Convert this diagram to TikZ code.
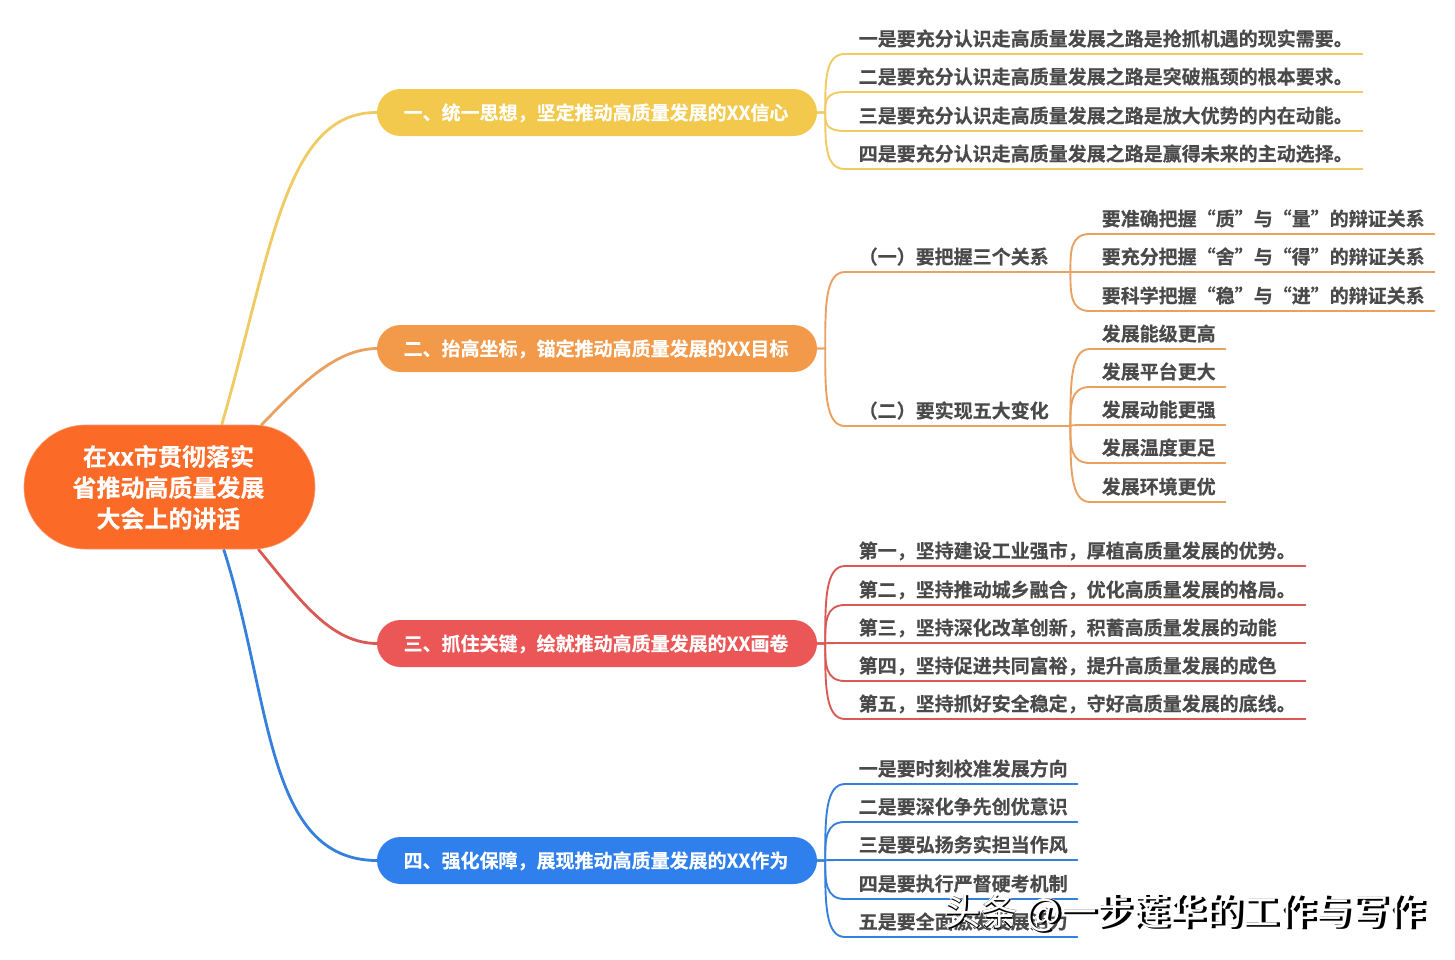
\documentclass[tikz,border=0pt]{standalone}
\usepackage{fontspec}
\usetikzlibrary{shapes.misc,backgrounds,calc}
\setmainfont{Noto Sans CJK SC}[BoldFont={Noto Sans CJK SC Bold},BoldFeatures={FakeBold=0.35}]
\newfontfamily\wmthin{Noto Sans CJK SC}
\newfontfamily\wmthick{Noto Sans CJK SC Bold}[FakeBold=2]
\newfontfamily\wmmid{Noto Sans CJK SC Bold}
\definecolor{cy}{HTML}{F2C94C}\definecolor{co}{HTML}{F2994A}\definecolor{cr}{HTML}{EB5757}\definecolor{cb}{HTML}{2F80ED}
\definecolor{ly}{HTML}{EFCB62}\definecolor{lo}{HTML}{E9A162}\definecolor{lr}{HTML}{D95A55}\definecolor{lb}{HTML}{3580DD}
\definecolor{croot}{HTML}{FB6A27}\definecolor{ctxt}{HTML}{4A4A4A}
\tikzset{x=1pt,y=-1pt,
 rootbox/.style={rounded rectangle,fill=croot,draw=croot!70!white,line width=.6pt,minimum width=291pt,minimum height=124pt,inner sep=0pt,align=center,text=white,font=\fontsize{24}{31}\selectfont\bfseries},
 branch/.style={rounded rectangle,fill=#1,minimum width=440pt,minimum height=47pt,inner sep=0pt,text=white,font=\fontsize{19}{23}\selectfont\bfseries},
 leaf/.style={anchor=south west,inner sep=0pt,text=ctxt,font=\fontsize{19}{23}\selectfont\bfseries},
 wire/.style={line width=1.9pt,line cap=round,line join=round},
 mainwire/.style={line width=2.8pt},
 wmark/.style={anchor=west,inner sep=0pt,font=\fontsize{36.5}{40}\selectfont}}
\newcommand{\lowered}[1]{\kern-2pt\raisebox{-0.4pt}[\height][\depth]{#1}}
\newcommand{\leafnode}[6][14]{\node[leaf] (#2) at (#3,#4) {\makebox[\dimexpr #5pt-#3pt\relax][l]{\hspace{\dimexpr #1pt-0.5pt\relax}\rule[-8pt]{0pt}{26pt}#6}};}
\newcommand{\twig}[4]{\coordinate (tp) at ($(#2)+(#4,0)$); \draw[wire,#1] (#2) -- (tp) .. controls ($(tp)!0.55!(tp|-#3.south west)$) and (tp|-#3.south west) .. (#3.south west) -- (#3.south east);}
\newcommand{\wmtext}{头条\hspace{9pt}@\hspace{-1pt}一步莲华的工作与写作}
\begin{document}
\begin{tikzpicture}
\useasboundingbox (0,0) rectangle (1455,959);
\node[rootbox] (root) at (169.5,487) {\lowered{在xx市贯彻落实}\\\lowered{省推动高质量发展}\\\lowered{大会上的讲话}};
\node[branch=cy] (b1) at (597,112.5) {\lowered{一、统一思想，坚定推动高质量发展的XX信心}};
\node[branch=co] (b2) at (597,348.5) {\lowered{二、抬高坐标，锚定推动高质量发展的XX目标}};
\node[branch=cr] (b3) at (597,643.5) {\lowered{三、抓住关键，绘就推动高质量发展的XX画卷}};
\node[branch=cb] (b4) at (597,860.5) {\lowered{四、强化保障，展现推动高质量发展的XX作为}};
\leafnode{a1}{845}{54}{1362}{一是要充分认识走高质量发展之路是抢抓机遇的现实需要。}
\leafnode{a2}{845}{92}{1362}{二是要充分认识走高质量发展之路是突破瓶颈的根本要求。}
\leafnode{a3}{845}{131}{1362}{三是要充分认识走高质量发展之路是放大优势的内在动能。}
\leafnode{a4}{845}{169}{1362}{四是要充分认识走高质量发展之路是赢得未来的主动选择。}
\leafnode{s1}{845}{272}{1070}{（一）要把握三个关系}
\leafnode{s2}{845}{426}{1070}{（二）要实现五大变化}
\leafnode[12]{p1}{1090}{234}{1434}{要准确把握“质”与“量”的辩证关系}
\leafnode[12]{p2}{1090}{272}{1434}{要充分把握“舍”与“得”的辩证关系}
\leafnode[12]{p3}{1090}{311}{1434}{要科学把握“稳”与“进”的辩证关系}
\leafnode[12]{q1}{1090}{349}{1225}{发展能级更高}
\leafnode[12]{q2}{1090}{387}{1225}{发展平台更大}
\leafnode[12]{q3}{1090}{425}{1225}{发展动能更强}
\leafnode[12]{q4}{1090}{463}{1225}{发展温度更足}
\leafnode[12]{q5}{1090}{502}{1225}{发展环境更优}
\leafnode{c1}{845}{566}{1305}{第一，坚持建设工业强市，厚植高质量发展的优势。}
\leafnode{c2}{845}{605}{1305}{第二，坚持推动城乡融合，优化高质量发展的格局。}
\leafnode{c3}{845}{643}{1305}{第三，坚持深化改革创新，积蓄高质量发展的动能}
\leafnode{c4}{845}{681}{1305}{第四，坚持促进共同富裕，提升高质量发展的成色}
\leafnode{c5}{845}{719}{1305}{第五，坚持抓好安全稳定，守好高质量发展的底线。}
\leafnode{d1}{845}{784}{1077}{一是要时刻校准发展方向}
\leafnode{d2}{845}{822}{1077}{二是要深化争先创优意识}
\leafnode{d3}{845}{860}{1077}{三是要弘扬务实担当作风}
\leafnode{d4}{845}{899}{1077}{四是要执行严督硬考机制}
\leafnode{d5}{845}{937}{1077}{五是要全面激发发展活力}
\begin{scope}[on background layer]
\draw[mainwire,ly] (root.50) .. controls (272,250) and (285,112) .. (b1.west);
\draw[mainwire,lo] (root.34) .. controls (300,385) and (335,349) .. (b2.west);
\draw[mainwire,lr] (root.-35) .. controls (300,600) and (330,643) .. (b3.west);
\draw[mainwire,lb] (root.-49) .. controls (272,700) and (265,860) .. (b4.west);
\foreach \n in {a1,a2,a3,a4}{\twig{ly}{b1.east}{\n}{8}}
\foreach \n in {s1,s2}{\twig{lo}{b2.east}{\n}{8}}
\foreach \n in {p1,p2,p3}{\twig{lo}{s1.south east}{\n}{0}}
\foreach \n in {q1,q2,q3,q4,q5}{\twig{lo}{s2.south east}{\n}{0}}
\foreach \n in {c1,c2,c3,c4,c5}{\twig{lr}{b3.east}{\n}{8}}
\foreach \n in {d1,d2,d3,d4,d5}{\twig{lb}{b4.east}{\n}{8}}
\end{scope}
\node[wmark,text=white] (wm1) at (944,913.5) {\wmthick\wmtext};
\node[wmark,text=black] (wm2) at (945,914.5) {\wmmid\wmtext};
\node[wmark,text=white] (wm3) at (944.3,913) {\wmthin\wmtext};
\end{tikzpicture}
\end{document}
